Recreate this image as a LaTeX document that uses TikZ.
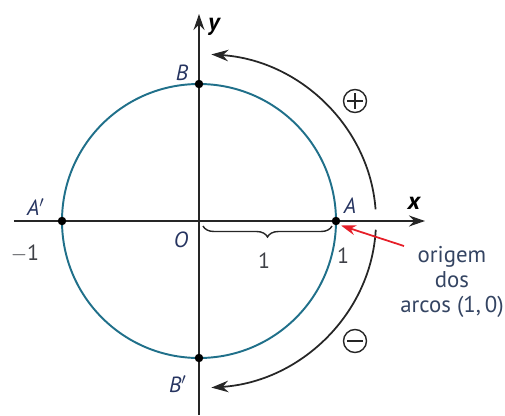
\documentclass[tikz,border=0pt]{standalone}
\usepackage{fontspec}
\setmainfont{PT Sans}
\setsansfont{PT Sans}
\usetikzlibrary{arrows.meta,positioning,calc,decorations.pathreplacing}
\definecolor{circteal}{RGB}{32,112,138}
\definecolor{labnavy}{RGB}{38,52,96}
\definecolor{labgray}{RGB}{62,64,70}
\definecolor{txtslate}{RGB}{52,68,98}
\definecolor{ptred}{RGB}{230,30,40}
\tikzset{
  axis/.style={-{Stealth[length=3.2mm,width=2.2mm]}, line width=0.8pt, draw=black!85},
  unitcirc/.style={draw=circteal, line width=1.1pt},
  arcarrow/.style={-{Stealth[length=3.4mm,width=2.3mm]}, line width=1.0pt, draw=black!85},
  ptdot/.style={circle, fill=black, inner sep=0pt, minimum size=1.7mm},
  ptlabel/.style={font=\fontsize{12.5}{14}\selectfont\itshape, text=labnavy, inner sep=0pt},
  numlabel/.style={font=\fontsize{12.5}{14}\selectfont, text=labgray, inner sep=0pt},
  axlabel/.style={font=\fontsize{14}{16}\selectfont\bfseries\itshape, inner sep=0pt},
  signmark/.style={circle, draw=black!85, line width=0.8pt, minimum size=4.6mm, inner sep=0pt},
  note/.style={font=\fontsize{13}{14.2}\selectfont, text=txtslate, align=center, inner sep=0pt},
  redarrow/.style={-{Stealth[length=3mm,width=2mm]}, line width=1.0pt, draw=ptred},
}
\begin{document}
\begin{tikzpicture}
  \useasboundingbox (-3.98,-3.88) rectangle (6.12,4.42);
  % axes
  \coordinate (O) at (0,0);
  \coordinate (xl) at (-3.7,0);
  \coordinate (xr) at (4.52,0);
  \coordinate (yb) at (0,-3.88);
  \coordinate (yt) at (0,4.14);
  \draw[axis] (xl) -- (xr);
  \draw[axis] (yb) -- (yt);
  \node[axlabel] (xlab) at (4.30,0.36) {x};
  \node[axlabel] (ylab) at (0.30,3.88) {y};
  % unit circle
  \draw[unitcirc] (O) circle[radius=2.74];
  \node[ptdot] (A) at (2.74,0) {};
  \node[ptdot] (Ap) at (-2.74,0) {};
  \node[ptdot] (B) at (0,2.74) {};
  \node[ptdot] (Bp) at (0,-2.74) {};
  \node[ptlabel] (Alab) at (3.02,0.30) {A};
  \node[ptlabel] (Aplab) at (-3.26,0.28) {A$'$};
  \node[ptlabel] (Blab) at (-0.34,2.96) {B};
  \node[ptlabel] (Bplab) at (-0.42,-3.26) {B$'$};
  \node[ptlabel] (Olab) at (-0.36,-0.38) {O};
  \node[numlabel] (mone) at (-3.48,-0.66) {$-$1};
  \node[numlabel] (one) at (2.88,-0.70) {1};
  % radius brace
  \coordinate (br1) at (0.08,-0.1);
  \coordinate (br2) at (2.66,-0.1);
  \draw[decorate, decoration={brace, mirror, amplitude=0.22cm}, line width=0.8pt, black!85] (br1) -- (br2);
  \node[numlabel] (rad) at (1.30,-0.80) {1};
  % oriented arcs
  \coordinate (pstart) at (4:3.54cm and 3.34cm);
  \coordinate (nstart) at (-3:3.54cm and 3.34cm);
  \draw[arcarrow] (pstart) arc[start angle=4, end angle=86, x radius=3.54, y radius=3.34];
  \draw[arcarrow] (nstart) arc[start angle=-3, end angle=-86, x radius=3.54, y radius=3.34];
  \node[signmark] (plus) at (3.12,2.40) {};
  \draw[line width=0.8pt, black!85] ($(plus)+(-0.16,0)$) -- ($(plus)+(0.16,0)$)
    ($(plus)+(0,-0.16)$) -- ($(plus)+(0,0.16)$);
  \node[signmark] (minus) at (3.12,-2.40) {};
  \draw[line width=0.8pt, black!85] ($(minus)+(-0.16,0)$) -- ($(minus)+(0.16,0)$);
  % origin of arcs
  \node[note] (orig) at (5.06,-1.22) {origem\\dos\\arcos (1,\,0)};
  \coordinate (rtip) at (2.84,-0.09);
  \draw[redarrow] (4.10,-0.50) -- (rtip);
\end{tikzpicture}
\end{document}
